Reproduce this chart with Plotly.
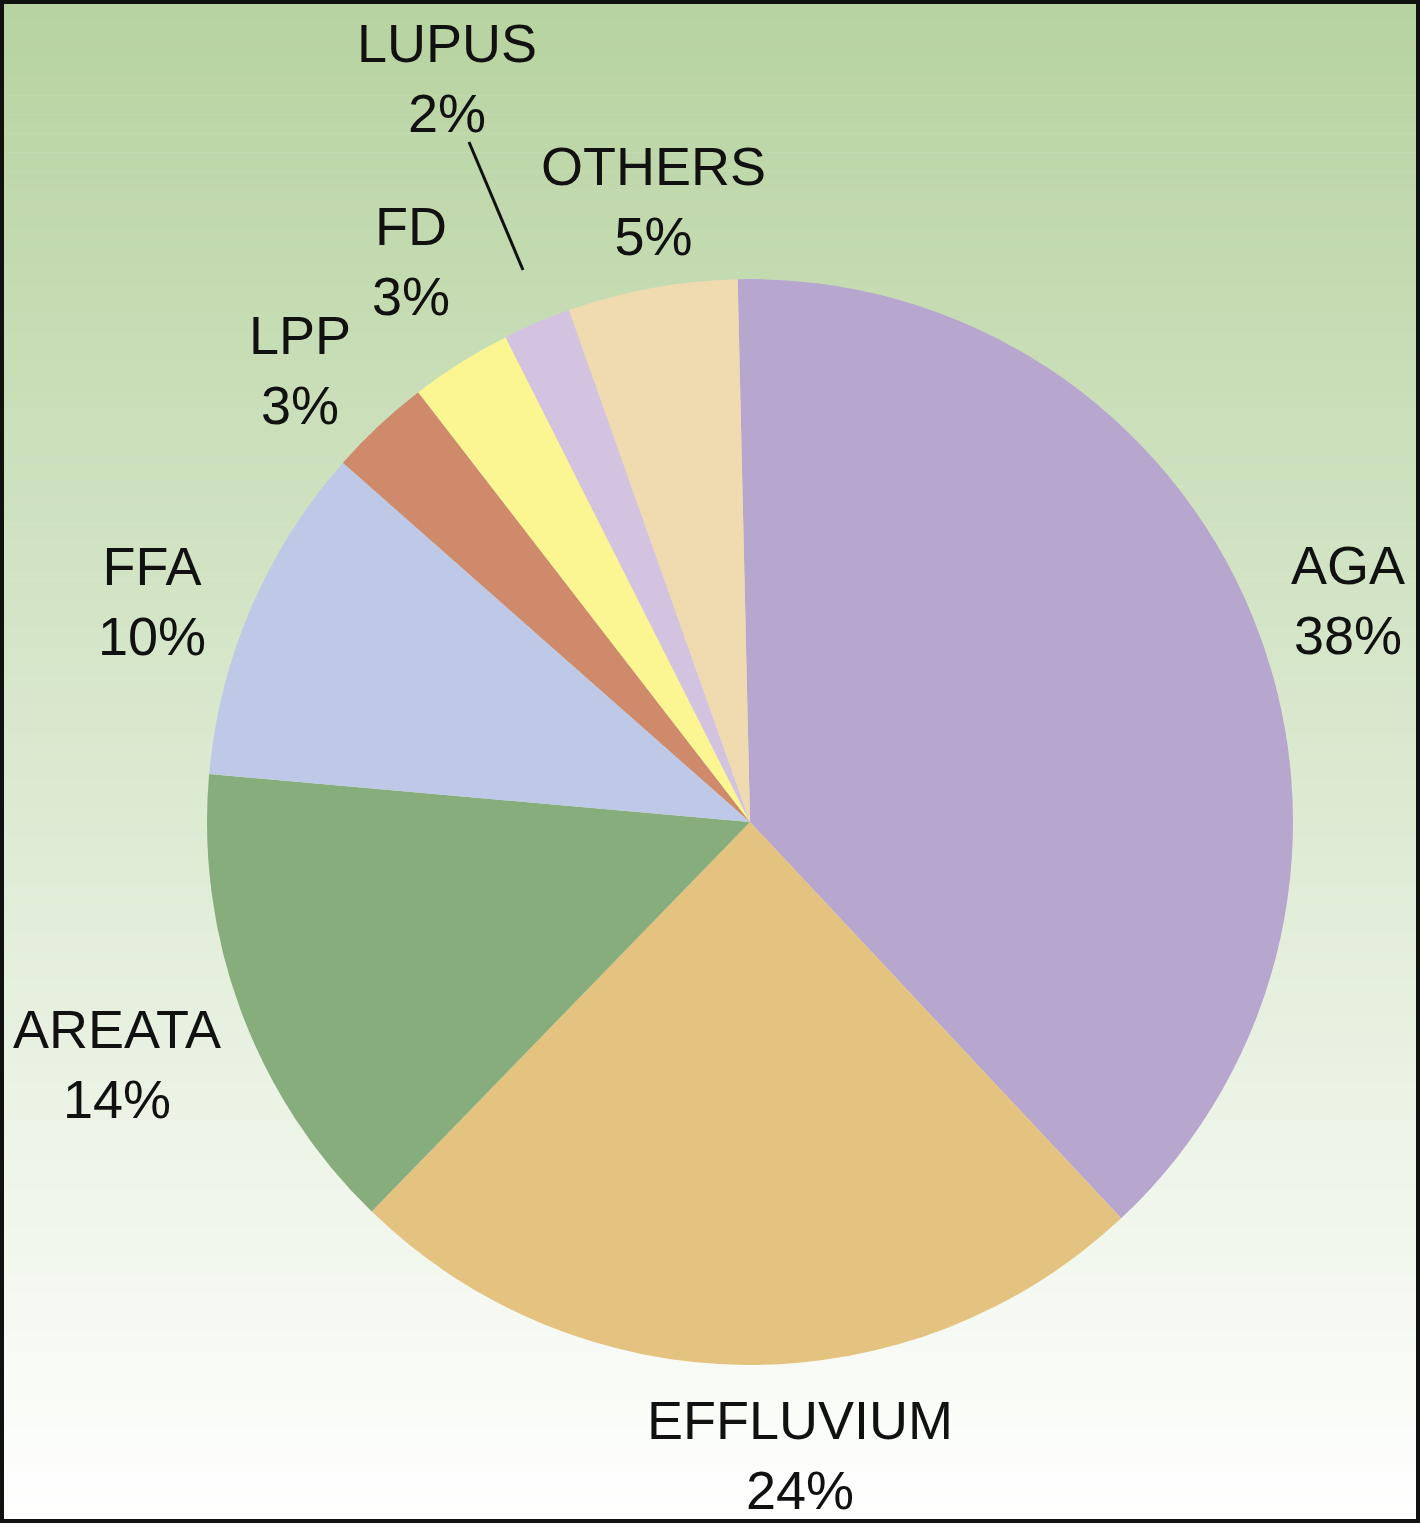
import plotly.graph_objects as go

# Data
categories = ["AGA", "EFFLUVIUM", "AREATA", "FFA", "LPP", "FD", "LUPUS", "OTHERS"]
values = [38, 24, 14, 10, 3, 3, 2, 5]
colors = ["#b7a7cf", "#e4c27f", "#86ad7b", "#bec9e7", "#cf896b", "#fbf592", "#d3c3e1", "#f0dab0"]

W, H = 1420, 1534

# label block centres in pixels (layout positions)
label_pos = {
    "AGA": (1348, 600),
    "EFFLUVIUM": (800, 1455),
    "AREATA": (117, 1064),
    "FFA": (152, 601),
    "LPP": (300, 370),
    "FD": (411, 261),
    "LUPUS": (447, 78),
    "OTHERS": (653, 201),
}

def px(x):
    return x / W

def py(y):
    return 1 - y / H

cx, cy, r = 750, 822, 543

fig = go.Figure(go.Pie(
    labels=categories,
    values=values,
    sort=False,
    direction="clockwise",
    rotation=-1.3,
    marker=dict(colors=colors, line=dict(width=0)),
    textinfo="none",
    hoverinfo="label+percent",
    showlegend=False,
    domain=dict(x=[px(cx - r), px(cx + r)], y=[py(cy + r), py(cy - r)]),
))

shapes = []
# gradient background
top = (183, 211, 160)
bot = (255, 255, 255)
n = 160
y_top, y_bot = 0, 1522
for i in range(n):
    t = i / (n - 1)
    c = tuple(round(top[k] + (bot[k] - top[k]) * t) for k in range(3))
    y0 = y_top + (y_bot - y_top) * i / n
    y1 = y_top + (y_bot - y_top) * (i + 1) / n + 0.6
    shapes.append(dict(type="rect", xref="paper", yref="paper",
                       x0=0, x1=1, y0=py(min(y1, y_bot)), y1=py(y0),
                       fillcolor="rgb(%d,%d,%d)" % c, line=dict(width=0), layer="below"))
# frame
shapes.append(dict(type="rect", xref="paper", yref="paper",
                   x0=px(2), x1=px(1418), y0=py(1521), y1=py(2),
                   line=dict(color="#111111", width=4), fillcolor="rgba(0,0,0,0)", layer="above"))
# leader line for LUPUS
shapes.append(dict(type="line", xref="paper", yref="paper",
                   x0=px(469), y0=py(142), x1=px(523), y1=py(270),
                   line=dict(color="#111111", width=3)))

annotations = []
for cat, v in zip(categories, values):
    x, y = label_pos[cat]
    annotations.append(dict(
        text=f"{cat}<br>{v}%", x=px(x), y=py(y), xref="paper", yref="paper",
        xanchor="center", yanchor="middle", showarrow=False, align="center",
        font=dict(family="Liberation Sans, Arial, sans-serif", size=54, color="#111111"),
    ))

fig.update_layout(
    width=W, height=H,
    margin=dict(l=0, r=0, t=0, b=0),
    paper_bgcolor="white",
    plot_bgcolor="white",
    shapes=shapes,
    annotations=annotations,
)

fig.write_html("out.html",
               config={"displayModeBar": False},
               post_script="document.body.style.margin='0';document.body.style.padding='0';document.body.style.overflow='hidden';")
